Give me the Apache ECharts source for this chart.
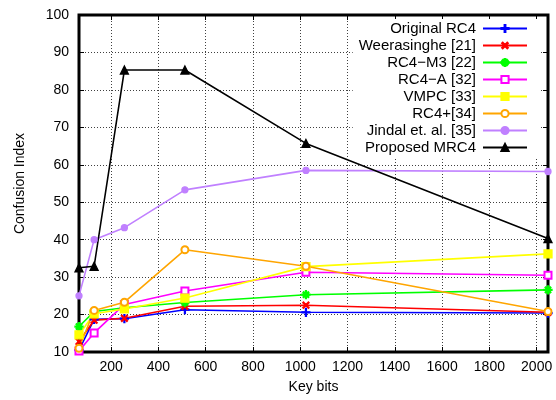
<!DOCTYPE html>
<html>
<head>
<meta charset="utf-8">
<script src="https://cdn.jsdelivr.net/npm/echarts@6/dist/echarts.min.js"></script>
<style>
  html, body { margin: 0; padding: 0; background: #fff; }
  #chart { width: 556px; height: 400px; }
</style>
</head>
<body>
<div id="chart"></div>
<script>
// key sizes in bits
const keyBits = [64, 128, 256, 512, 1024, 2048];

// confusion index for each scheme
const originalRC4 = [10.5, 18.7, 18.9, 21.3, 20.6, 20.4];
const weerasinghe = [12.8, 18.5, 19.0, 22.2, 22.5, 20.6];
const rc4M3 = [16.8, 20.8, 21.8, 23.2, 25.3, 26.6];
const rc4A = [10.3, 15.1, 22.7, 26.3, 31.3, 30.5];
const vmpc = [14.6, 20.2, 21.5, 24.4, 32.8, 36.2];
const rc4Plus = [11.0, 21.1, 23.3, 37.3, 32.9, 20.8];
const jindal = [25.0, 40.0, 43.2, 53.3, 58.5, 58.2];
const proposedMRC4 = [32.5, 32.9, 85.3, 85.3, 65.7, 40.3];

const xTicks = [200, 400, 600, 800, 1000, 1200, 1400, 1600, 1800, 2000];

const FONT = 'Liberation Sans';

// gnuplot-like point shapes
const plusPath = 'path://M4.4,0H5.6V4.4H10V5.6H5.6V10H4.4V5.6H0V4.4H4.4Z';
const starPath = 'path://M4.4,0H5.6V4.4H10V5.6H5.6V10H4.4V5.6H0V4.4H4.4Z M1.3,2.1L2.1,1.3L5,4.2L7.9,1.3L8.7,2.1L5.8,5L8.7,7.9L7.9,8.7L5,5.8L2.1,8.7L1.3,7.9L4.2,5Z';

function pairs(ys) {
  return keyBits.map((x, i) => [x, ys[i]]);
}

function line(name, ys, color, symbol, size, rotate) {
  return {
    name: name,
    type: 'line',
    data: pairs(ys),
    symbol: symbol,
    symbolSize: size,
    symbolRotate: rotate || 0,
    showAllSymbol: true,
    lineStyle: { color: color, width: 1.6 },
    itemStyle: { color: color, borderColor: color, borderWidth: 1.3 },
    emphasis: { disabled: true },
    animation: false
  };
}

const chart = echarts.init(document.getElementById('chart'));

const splitStyle = { color: '#000', type: [1, 2], width: 1, opacity: 0.75 };

const option = {
  animation: false,
  grid: {
    left: 79, right: 8, top: 15, bottom: 48,
    show: true, borderColor: '#000', borderWidth: 3, backgroundColor: 'transparent'
  },
  legend: {
    orient: 'vertical',
    right: 16,
    top: 19,
    align: 'right',
    itemWidth: 44,
    itemHeight: 9,
    itemGap: 2,
    padding: [2, 12, 4, 6],
    backgroundColor: '#fff',
    textStyle: { fontFamily: FONT, fontSize: 15, lineHeight: 14, color: '#000', padding: [0, 2, 0, 0] },
    data: ['Original RC4', 'Weerasinghe [21]', 'RC4\u2212M3 [22]', 'RC4\u2212A [32]',
           'VMPC [33]', 'RC4+[34]', 'Jindal et. al. [35]', 'Proposed MRC4']
  },
  xAxis: [{
    type: 'value',
    min: 64,
    max: 2048,
    name: 'Key bits',
    nameLocation: 'middle',
    nameGap: 28,
    nameTextStyle: { fontFamily: FONT, fontSize: 14, color: '#000' },
    axisLine: { show: false },
    axisTick: { show: true, inside: true, length: 5, customValues: xTicks, lineStyle: { color: '#000' } },
    axisLabel: { customValues: xTicks, formatter: v => String(v), fontFamily: FONT, fontSize: 14, color: '#000', margin: 8 },
    splitLine: { show: true, lineStyle: splitStyle }
  }, {
    type: 'value',
    position: 'top',
    min: 64,
    max: 2048,
    axisLine: { show: false },
    axisTick: { show: true, inside: true, length: 5, customValues: xTicks, lineStyle: { color: '#000' } },
    axisLabel: { show: false },
    splitLine: { show: false }
  }],
  yAxis: [{
    type: 'value',
    min: 10,
    max: 100,
    interval: 10,
    name: 'Confusion Index',
    nameLocation: 'middle',
    nameGap: 52,
    nameTextStyle: { fontFamily: FONT, fontSize: 14, color: '#000' },
    axisLine: { show: false },
    axisTick: { show: true, inside: true, length: 5, lineStyle: { color: '#000' } },
    axisLabel: { fontFamily: FONT, fontSize: 14, color: '#000', margin: 10 },
    splitLine: { show: true, lineStyle: splitStyle }
  }, {
    type: 'value',
    position: 'right',
    min: 10,
    max: 100,
    interval: 10,
    axisLine: { show: false },
    axisTick: { show: true, inside: true, length: 5, lineStyle: { color: '#000' } },
    axisLabel: { show: false },
    splitLine: { show: false }
  }],
  series: [
    line('Original RC4', originalRC4, '#0000ff', plusPath, 8),
    line('Weerasinghe [21]', weerasinghe, '#ff0000', plusPath, 8, 45),
    line('RC4\u2212M3 [22]', rc4M3, '#00ff00', starPath, 8),
    line('RC4\u2212A [32]', rc4A, '#ff00ff', 'emptyRect', 7),
    line('VMPC [33]', vmpc, '#ffff00', 'rect', 8),
    line('RC4+[34]', rc4Plus, '#ffa500', 'emptyCircle', 7),
    line('Jindal et. al. [35]', jindal, '#c080ff', 'circle', 6),
    line('Proposed MRC4', proposedMRC4, '#000000', 'triangle', 8)
  ]
};

chart.setOption(option);
</script>
</body>
</html>
